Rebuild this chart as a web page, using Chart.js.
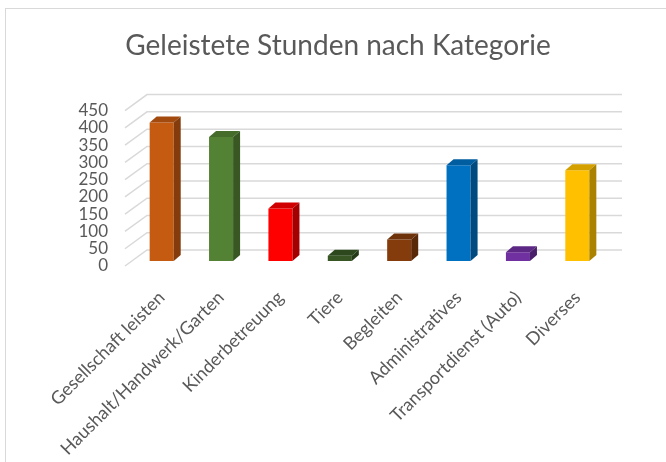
<!DOCTYPE html>
<html>
<head>
<meta charset="utf-8">
<script src="https://cdn.jsdelivr.net/npm/chart.js@4.4.0/dist/chart.umd.min.js"></script>
<style>
  html, body { margin: 0; padding: 0; background: #fff; }
  #frame { position: absolute; left: 5px; top: 8px; width: 700px; height: 500px;
           border-left: 1.5px solid #d9d9d9; border-top: 1.5px solid #d9d9d9; }
  #wrap { position: absolute; left: 0; top: 0; width: 666px; height: 462px; }
</style>
</head>
<body>
<div id="frame"></div>
<div id="wrap"><canvas id="myChart"></canvas></div>
<script>
// kategorien + stunden
const categories = ['Gesellschaft leisten', 'Haushalt/Handwerk/Garten', 'Kinderbetreuung', 'Tiere',
                    'Begleiten', 'Administratives', 'Transportdienst (Auto)', 'Diverses'];
const hours = [401, 359, 152, 15, 62, 277, 25, 263];
const yTicks = [0, 50, 100, 150, 200, 250, 300, 350, 400, 450];

// farben: vorne, seite, oben
const frontColors = ['#C55A11', '#548235', '#FF0000', '#375623', '#843C0C', '#0070C0', '#7030A0', '#FFC000'];
const sideColors  = ['#843C0C', '#385723', '#A50000', '#243916', '#582808', '#004A80', '#4A206A', '#AA8200'];
const topColors   = ['#A34A0E', '#466C2C', '#D00000', '#2D481D', '#6E320A', '#005DA0', '#5D2885', '#D4A000'];

const depthX = 7, depthY = 6;

// grid lines like excel 3d (back wall + left wall)
const gridPlugin = {
    id: 'grid3d',
    beforeDatasetsDraw(chart) {
        const {ctx, chartArea, scales} = chart;
        ctx.save();
        ctx.strokeStyle = '#d9d9d9';
        ctx.lineWidth = 1.5;
        for (const v of yTicks) {
            const y = scales.y.getPixelForValue(v);
            ctx.beginPath();
            ctx.moveTo(chartArea.left - 7, y + 5);
            ctx.lineTo(chartArea.left + 15, y - 11);
            ctx.lineTo(chartArea.right + 15, y - 11);
            ctx.stroke();
        }
        ctx.restore();
    }
};

// side + top faces of the columns
const boxPlugin = {
    id: 'box3d',
    afterDatasetsDraw(chart) {
        const ctx = chart.ctx;
        const meta = chart.getDatasetMeta(0);
        ctx.save();
        meta.data.forEach((bar, i) => {
            const l = bar.x - bar.width / 2;
            const r = bar.x + bar.width / 2;
            const t = bar.y;
            const b = bar.base;
            // top
            ctx.fillStyle = topColors[i];
            ctx.beginPath();
            ctx.moveTo(l, t);
            ctx.lineTo(r, t);
            ctx.lineTo(r + depthX, t - depthY);
            ctx.lineTo(l + depthX, t - depthY);
            ctx.closePath();
            ctx.fill();
            // side
            ctx.fillStyle = sideColors[i];
            ctx.beginPath();
            ctx.moveTo(r, t);
            ctx.lineTo(r + depthX, t - depthY);
            ctx.lineTo(r + depthX, b - depthY);
            ctx.lineTo(r, b);
            ctx.closePath();
            ctx.fill();
        });
        ctx.restore();
    }
};

const ctx = document.getElementById('myChart');

new Chart(ctx, {
    type: 'bar',
    data: {
        labels: categories,
        datasets: [{
            label: 'Stunden',
            data: hours,
            backgroundColor: frontColors,
            borderWidth: 0,
            barPercentage: 0.405,
            categoryPercentage: 1
        }]
    },
    options: {
        responsive: true,
        maintainAspectRatio: false,
        animation: false,
        layout: { padding: { left: 10, right: 0, top: 0, bottom: 0 } },
        plugins: {
            legend: { display: false },
            tooltip: { enabled: false },
            title: {
                display: true,
                text: 'Geleistete Stunden nach Kategorie',
                color: '#595959',
                font: { family: 'Lato', size: 28, weight: 'normal' },
                padding: { top: 29, bottom: 43 }
            }
        },
        scales: {
            x: {
                grid: { display: false },
                border: { display: false },
                ticks: {
                    color: '#595959',
                    font: { family: 'Lato', size: 18 },
                    minRotation: 45,
                    maxRotation: 45,
                    autoSkip: false,
                    padding: 18
                },
                afterFit(scale) { scale.height = 201; }
            },
            y: {
                min: 0,
                max: 450,
                grid: { display: false, drawTicks: false },
                border: { display: false },
                ticks: {
                    stepSize: 50,
                    autoSkip: false,
                    color: '#595959',
                    font: { family: 'Lato', size: 17 },
                    padding: 24,
                    labelOffset: 5
                },
                afterFit(scale) { scale.width = 122; }
            },
            // leerer platz rechts (so bleibt der titel mittig)
            yRight: {
                position: 'right',
                grid: { display: false, drawTicks: false },
                border: { display: false },
                ticks: { display: false },
                afterFit(scale) { scale.width = 59; }
            }
        }
    },
    plugins: [gridPlugin, boxPlugin]
});
</script>
</body>
</html>
